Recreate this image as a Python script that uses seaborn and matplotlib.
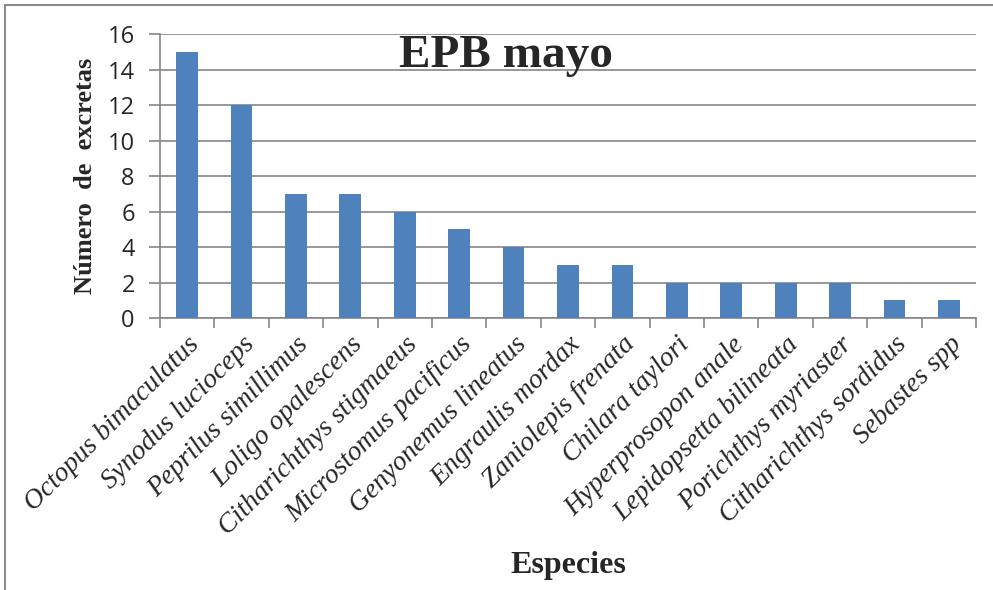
import matplotlib
matplotlib.use("Agg")
import matplotlib.pyplot as plt
from matplotlib.patches import Rectangle
from matplotlib.ticker import FixedLocator
import seaborn as sns
import pandas as pd

especies = [
    "Octopus bimaculatus", "Synodus lucioceps", "Peprilus simillimus",
    "Loligo opalescens", "Citharichthys stigmaeus", "Microstomus pacificus",
    "Genyonemus lineatus", "Engraulis mordax", "Zaniolepis frenata",
    "Chilara taylori", "Hyperprosopon anale", "Lepidopsetta bilineata",
    "Porichthys myriaster", "Citharichthys sordidus", "Sebastes spp",
]
excretas = [15, 12, 7, 7, 6, 5, 4, 3, 3, 2, 2, 2, 2, 1, 1]
y_ticks = [0, 2, 4, 6, 8, 10, 12, 14, 16]

df = pd.DataFrame({"Especie": especies, "Excretas": excretas})

sns.set_style("white")
grid_gray = "#868686"

fig = plt.figure(figsize=(9.93, 5.90), dpi=100)
ax = fig.add_axes([0.161, 0.461, 0.822, 0.481])

sns.barplot(data=df, x="Especie", y="Excretas", color="#4F81BD",
            width=0.4, saturation=1, linewidth=0, ax=ax, zorder=3)

ax.set_ylim(0, 16)
ax.set_xlim(-0.5, len(especies) - 0.5)
ax.set_yticks(y_ticks)
ax.set_yticklabels([str(v) for v in y_ticks], fontsize=17,
                   family=["Open Sans", "DejaVu Sans"])
ax.yaxis.grid(True, color=grid_gray, linewidth=1.2, zorder=0)
ax.set_axisbelow(True)

# category labels centred on bars, tick marks between categories
ax.set_xticks(range(len(especies)))
ax.set_xticklabels(especies, rotation=45, ha="right", va="top",
                   rotation_mode="anchor", fontsize=20,
                   family="Liberation Serif", style="italic")
ax.xaxis.set_minor_locator(FixedLocator([i - 0.5 for i in range(len(especies) + 1)]))
ax.tick_params(axis="x", which="major", length=0, pad=10)
ax.tick_params(axis="x", which="minor", length=7, width=1.2, color=grid_gray,
               direction="out", bottom=True)
ax.tick_params(axis="y", length=8, width=1.2, color=grid_gray,
               direction="out", left=True, pad=10)

for side in ("top", "right"):
    ax.spines[side].set_visible(False)
for side in ("left", "bottom"):
    ax.spines[side].set_color(grid_gray)
    ax.spines[side].set_linewidth(1.2)

ax.set_xlabel("")
ax.set_ylabel("Número  de  excretas", fontsize=19, fontweight="bold",
              family="Liberation Serif", labelpad=8)

ax.text(0.424, 0.925, "EPB mayo", transform=ax.transAxes, ha="center",
        va="center", fontsize=34, fontweight="bold", family="Liberation Serif")

fig.text(0.572, 0.028, "Especies", ha="center", va="baseline", fontsize=23,
         fontweight="bold", family="Liberation Serif")

# chart frame
fig.patches.append(Rectangle((5 / 993, -0.1), 1.2, 1.1 - 5 / 590,
                             transform=fig.transFigure, fill=False,
                             edgecolor="#8a8a8a", linewidth=1.5))

fig.savefig("out.png", dpi=100)
